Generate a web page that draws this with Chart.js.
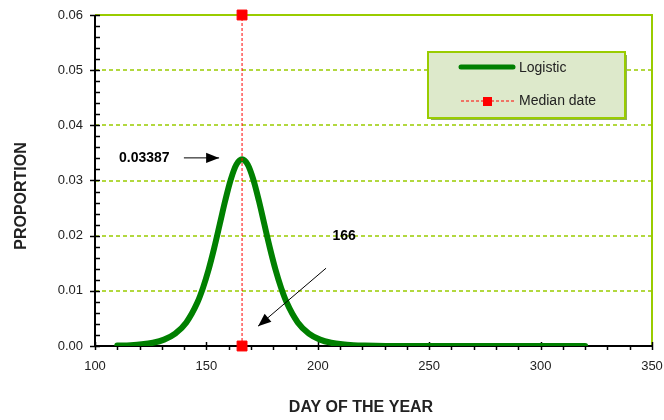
<!DOCTYPE html>
<html>
<head>
<meta charset="utf-8">
<script src="https://cdn.jsdelivr.net/npm/chart.js@4.4.1/dist/chart.umd.min.js"></script>
<style>
  html, body { margin: 0; padding: 0; background: #fff; }
  #wrap { width: 664px; height: 420px; }
</style>
</head>
<body>
<div id="wrap"><canvas id="chart" width="664" height="420"></canvas></div>
<script>
// day of the year for the fitted curve
const days = [110, 116, 121, 126, 131, 136, 141, 146, 148.5, 151, 153.5, 156, 158.5, 161, 163.5, 166,
  168.5, 171, 173.5, 176, 178.5, 181, 183.5, 186, 191, 196, 201, 206, 211, 216, 221, 226, 231, 236, 241,
  250, 275, 300, 320];
// proportion (logistic curve)
const logistic = [0.00007, 0.000155, 0.000303, 0.000595, 0.00116, 0.00225, 0.00428, 0.00792, 0.01058,
  0.01387, 0.01777, 0.02208, 0.02644, 0.03026, 0.03292, 0.03387, 0.03292, 0.03026, 0.02644, 0.02208,
  0.01777, 0.01387, 0.01058, 0.00792, 0.00428, 0.00225, 0.00116, 0.000595, 0.000303, 0.000155, 0.00008,
  0.00004, 0.00002, 0.00001, 0.000005, 0.000001, 0, 0, 0];
// median date marker
const medianDays = [166, 166];
const medianValues = [0, 0.06];
const peakLabel = '0.03387';
const medianLabel = '166';

const xTicks = [100, 150, 200, 250, 300, 350];
const yTicks = [0, 0.01, 0.02, 0.03, 0.04, 0.05, 0.06];

const GREEN_GRID = '#99cc00';
const TEXT = '#222';

const curvePts = days.map((d, i) => ({ x: d, y: logistic[i] }));
const medianPts = medianDays.map((d, i) => ({ x: d, y: medianValues[i] }));

function arrow(ctx, x1, y1, x2, y2, head) {
  ctx.beginPath();
  ctx.moveTo(x1, y1);
  ctx.lineTo(x2, y2);
  ctx.stroke();
  const a = Math.atan2(y2 - y1, x2 - x1);
  ctx.beginPath();
  ctx.moveTo(x2, y2);
  ctx.lineTo(x2 - head * Math.cos(a) + head * 0.4 * Math.sin(a), y2 - head * Math.sin(a) - head * 0.4 * Math.cos(a));
  ctx.lineTo(x2 - head * Math.cos(a) - head * 0.4 * Math.sin(a), y2 - head * Math.sin(a) + head * 0.4 * Math.cos(a));
  ctx.closePath();
  ctx.fill();
}

// stop chart.js from reserving room for overhanging tick labels
function noOverhang(s) {
  s.paddingTop = 0; s.paddingBottom = 0; s.paddingLeft = 0; s.paddingRight = 0;
}

const framePlugin = {
  id: 'frame',
  beforeDatasetsDraw(chart) {
    const { ctx, chartArea: ca, scales: { x, y } } = chart;
    ctx.save();
    // dashed horizontal grid
    ctx.strokeStyle = GREEN_GRID;
    ctx.lineWidth = 1.5;
    ctx.setLineDash([4, 3]);
    [0.01, 0.02, 0.03, 0.04, 0.05].forEach(v => {
      const py = Math.round(y.getPixelForValue(v));
      ctx.beginPath(); ctx.moveTo(ca.left, py); ctx.lineTo(ca.right, py); ctx.stroke();
    });
    ctx.setLineDash([]);
    // solid green top and right edges
    ctx.lineWidth = 2;
    ctx.beginPath();
    ctx.moveTo(ca.left, ca.top); ctx.lineTo(ca.right, ca.top); ctx.lineTo(ca.right, ca.bottom);
    ctx.stroke();
    // black axes
    ctx.strokeStyle = '#000';
    ctx.lineWidth = 2;
    ctx.beginPath();
    ctx.moveTo(ca.left, ca.top); ctx.lineTo(ca.left, ca.bottom); ctx.lineTo(ca.right, ca.bottom);
    ctx.stroke();
    ctx.lineWidth = 1.5;
    // y ticks: majors cross, minors inside
    for (let v = 0; v <= 0.0601; v += 0.002) {
      const py = Math.round(y.getPixelForValue(v)) + 0.5;
      const major = Math.abs(v / 0.01 - Math.round(v / 0.01)) < 1e-6;
      ctx.beginPath();
      ctx.moveTo(ca.left - (major ? 5 : 0), py); ctx.lineTo(ca.left + 5, py);
      ctx.stroke();
    }
    // x ticks: majors cross, minors outside
    for (let v = 100; v <= 350; v += 10) {
      const px = Math.round(x.getPixelForValue(v)) + 0.5;
      const major = v % 50 === 0;
      ctx.beginPath();
      ctx.moveTo(px, ca.bottom - (major ? 4 : 0)); ctx.lineTo(px, ca.bottom + 4);
      ctx.stroke();
    }
    ctx.restore();
  },
  afterDatasetsDraw(chart) {
    const { ctx, scales: { x, y } } = chart;
    ctx.save();
    ctx.fillStyle = '#000';
    ctx.strokeStyle = '#000';
    ctx.lineWidth = 1;
    ctx.font = 'bold 14px "Liberation Sans", Arial, sans-serif';
    // peak value note
    ctx.textAlign = 'right';
    ctx.textBaseline = 'middle';
    ctx.fillText(peakLabel, x.getPixelForValue(133.5), y.getPixelForValue(0.0341));
    arrow(ctx, x.getPixelForValue(139.9), y.getPixelForValue(0.0341),
      x.getPixelForValue(155.7), y.getPixelForValue(0.0341), 13);
    // median note
    ctx.textAlign = 'center';
    ctx.fillText(medianLabel, x.getPixelForValue(211.8), y.getPixelForValue(0.0199));
    arrow(ctx, x.getPixelForValue(203.7), y.getPixelForValue(0.0141),
      x.getPixelForValue(173.2), y.getPixelForValue(0.0036), 13);

    // axis titles
    ctx.font = 'bold 16px "Liberation Sans", Arial, sans-serif';
    ctx.fillStyle = TEXT;
    ctx.fillText('DAY OF THE YEAR', 361, 408);
    ctx.translate(22, 196);
    ctx.rotate(-Math.PI / 2);
    ctx.fillText('PROPORTION', 0, 0);
    ctx.restore();

    // legend box
    ctx.save();
    const lx = 428, ly = 52, lw = 197, lh = 66;
    ctx.fillStyle = '#8fae5f';
    ctx.fillRect(lx + 3, ly + 3, lw - 1, lh - 1);
    ctx.fillStyle = '#dde9cb';
    ctx.fillRect(lx, ly, lw, lh);
    ctx.strokeStyle = GREEN_GRID;
    ctx.lineWidth = 2;
    ctx.strokeRect(lx, ly, lw, lh);
    // logistic entry
    ctx.strokeStyle = '#008000';
    ctx.lineWidth = 5;
    ctx.lineCap = 'round';
    ctx.beginPath(); ctx.moveTo(461, 67); ctx.lineTo(513, 67); ctx.stroke();
    // median entry
    ctx.strokeStyle = '#ff0000';
    ctx.lineWidth = 1;
    ctx.lineCap = 'butt';
    ctx.setLineDash([3, 2]);
    ctx.beginPath(); ctx.moveTo(461, 101); ctx.lineTo(514, 101); ctx.stroke();
    ctx.setLineDash([]);
    ctx.fillStyle = '#ff0000';
    ctx.fillRect(483, 97, 9, 9);
    ctx.fillStyle = TEXT;
    ctx.font = '14px "Liberation Sans", Arial, sans-serif';
    ctx.textAlign = 'left';
    ctx.textBaseline = 'middle';
    ctx.fillText('Logistic', 519, 68);
    ctx.fillText('Median date', 519, 101);
    ctx.restore();
  }
};

new Chart(document.getElementById('chart'), {
  type: 'scatter',
  data: {
    datasets: [
      {
        label: 'Logistic',
        data: curvePts,
        showLine: true,
        borderColor: '#008000',
        borderWidth: 6,
        borderCapStyle: 'round',
        cubicInterpolationMode: 'monotone',
        pointRadius: 0,
        order: 2
      },
      {
        label: 'Median date',
        data: medianPts,
        showLine: true,
        clip: false,
        borderColor: '#ff0000',
        borderWidth: 1,
        borderDash: [3, 2],
        pointStyle: 'rect',
        pointRadius: 7,
        pointBackgroundColor: '#ff0000',
        pointBorderColor: '#ff0000',
        order: 1
      }
    ]
  },
  options: {
    responsive: false,
    animation: false,
    layout: { padding: { top: 15, right: 12, left: 0, bottom: 0 } },
    plugins: { legend: { display: false }, tooltip: { enabled: false } },
    scales: {
      x: {
        type: 'linear',
        min: 100, max: 350,
        afterFit: s => { s.height = 74; noOverhang(s); },
        afterBuildTicks: s => { s.ticks = xTicks.map(v => ({ value: v })); },
        grid: { display: false, drawTicks: false },
        border: { display: false },
        ticks: { padding: 13, color: TEXT, font: { family: '"Liberation Sans", Arial, sans-serif', size: 13 } }
      },
      y: {
        min: 0, max: 0.06,
        afterFit: s => { s.width = 95; noOverhang(s); },
        afterBuildTicks: s => { s.ticks = yTicks.map(v => ({ value: v })); },
        grid: { display: false, drawTicks: false },
        border: { display: false },
        ticks: {
          padding: 12, color: TEXT,
          font: { family: '"Liberation Sans", Arial, sans-serif', size: 13 },
          callback: v => v.toFixed(2)
        }
      }
    }
  },
  plugins: [framePlugin]
});
</script>
</body>
</html>
